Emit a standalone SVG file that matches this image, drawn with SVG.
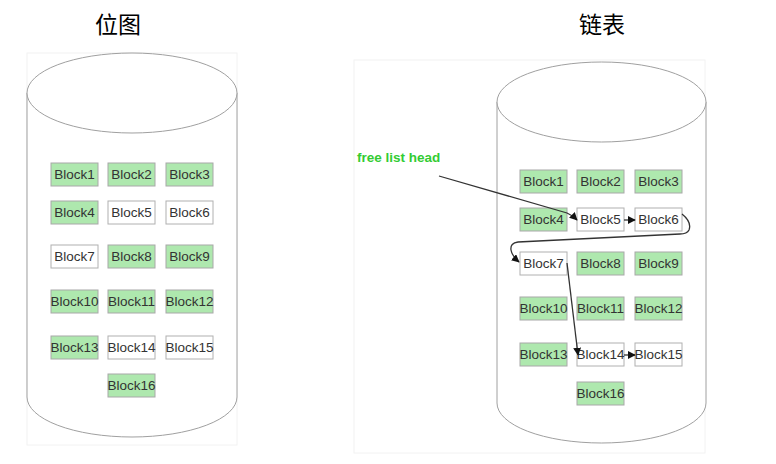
<svg xmlns="http://www.w3.org/2000/svg" width="776" height="464" viewBox="0 0 776 464">
<style>
.frame{fill:none;stroke:#f2f2f2;stroke-width:1}
.cyl{fill:#fff;stroke:#a0a0a0;stroke-width:1}
.used{fill:#aee8ae;stroke:#a8a8a8;stroke-width:1}
.free{fill:#fff;stroke:#b0b0b0;stroke-width:1}
.lbl{font-family:"Liberation Sans",Arial,sans-serif;font-size:13.5px;fill:#333;text-anchor:middle}
.title{font-family:"Noto Sans CJK SC","Noto Sans",sans-serif;font-size:23px;fill:#000;text-anchor:middle}
.conn{fill:none;stroke:#333;stroke-width:1.3}
.head{font-family:"Liberation Sans",Arial,sans-serif;font-size:13.5px;font-weight:bold;fill:#33cc33}
</style>
<defs>
<marker id="arr" viewBox="0 0 10 10" refX="9" refY="5" markerWidth="8" markerHeight="8" orient="auto" markerUnits="userSpaceOnUse">
<path d="M0,0 L10,5 L0,10 z" fill="#111"/>
</marker>
</defs>
<rect width="776" height="464" fill="#fff"/>
<text class="title" x="118" y="33">位图</text>
<text class="title" x="602" y="33">链表</text>
<rect class="frame" x="27" y="53" width="210" height="392"/>
<rect class="frame" x="354" y="60" width="351" height="393"/>
<g id="disk-bitmap">
<path class="cyl" d="M27,93 L27,397 A105,40 0 0 0 237,397 L237,93"/>
<ellipse class="cyl" cx="132" cy="93" rx="105" ry="40"/>
</g>
<g id="disk-list">
<path class="cyl" d="M497,102 L497,403 A104.5,40 0 0 0 706,403 L706,102"/>
<ellipse class="cyl" cx="601.5" cy="102" rx="104.5" ry="40"/>
</g>
<g id="bitmap-blocks">
<g id="b-block1"><rect class="used" x="51" y="163" width="47" height="23"/><text class="lbl" x="74.5" y="179">Block1</text></g>
<g id="b-block2"><rect class="used" x="108" y="163" width="47" height="23"/><text class="lbl" x="131.5" y="179">Block2</text></g>
<g id="b-block3"><rect class="used" x="166" y="163" width="47" height="23"/><text class="lbl" x="189.5" y="179">Block3</text></g>
<g id="b-block4"><rect class="used" x="51" y="201" width="47" height="23"/><text class="lbl" x="74.5" y="217">Block4</text></g>
<g id="b-block5"><rect class="free" x="108" y="201" width="47" height="23"/><text class="lbl" x="131.5" y="217">Block5</text></g>
<g id="b-block6"><rect class="free" x="166" y="201" width="47" height="23"/><text class="lbl" x="189.5" y="217">Block6</text></g>
<g id="b-block7"><rect class="free" x="51" y="245" width="47" height="23"/><text class="lbl" x="74.5" y="261">Block7</text></g>
<g id="b-block8"><rect class="used" x="108" y="245" width="47" height="23"/><text class="lbl" x="131.5" y="261">Block8</text></g>
<g id="b-block9"><rect class="used" x="166" y="245" width="47" height="23"/><text class="lbl" x="189.5" y="261">Block9</text></g>
<g id="b-block10"><rect class="used" x="51" y="290" width="47" height="23"/><text class="lbl" x="74.5" y="306">Block10</text></g>
<g id="b-block11"><rect class="used" x="108" y="290" width="47" height="23"/><text class="lbl" x="131.5" y="306">Block11</text></g>
<g id="b-block12"><rect class="used" x="166" y="290" width="47" height="23"/><text class="lbl" x="189.5" y="306">Block12</text></g>
<g id="b-block13"><rect class="used" x="51" y="336" width="47" height="23"/><text class="lbl" x="74.5" y="352">Block13</text></g>
<g id="b-block14"><rect class="free" x="108" y="336" width="47" height="23"/><text class="lbl" x="131.5" y="352">Block14</text></g>
<g id="b-block15"><rect class="free" x="166" y="336" width="47" height="23"/><text class="lbl" x="189.5" y="352">Block15</text></g>
<g id="b-block16"><rect class="used" x="108" y="374" width="47" height="23"/><text class="lbl" x="131.5" y="390">Block16</text></g>
</g>
<g id="list-blocks">
<g id="l-block1"><rect class="used" x="520" y="170" width="47" height="23"/><text class="lbl" x="543.5" y="186">Block1</text></g>
<g id="l-block2"><rect class="used" x="577" y="170" width="47" height="23"/><text class="lbl" x="600.5" y="186">Block2</text></g>
<g id="l-block3"><rect class="used" x="635" y="170" width="47" height="23"/><text class="lbl" x="658.5" y="186">Block3</text></g>
<g id="l-block4"><rect class="used" x="520" y="208" width="47" height="23"/><text class="lbl" x="543.5" y="224">Block4</text></g>
<g id="l-block5"><rect class="free" x="577" y="208" width="47" height="23"/><text class="lbl" x="600.5" y="224">Block5</text></g>
<g id="l-block6"><rect class="free" x="635" y="208" width="47" height="23"/><text class="lbl" x="658.5" y="224">Block6</text></g>
<g id="l-block7"><rect class="free" x="520" y="252" width="47" height="23"/><text class="lbl" x="543.5" y="268">Block7</text></g>
<g id="l-block8"><rect class="used" x="577" y="252" width="47" height="23"/><text class="lbl" x="600.5" y="268">Block8</text></g>
<g id="l-block9"><rect class="used" x="635" y="252" width="47" height="23"/><text class="lbl" x="658.5" y="268">Block9</text></g>
<g id="l-block10"><rect class="used" x="520" y="297" width="47" height="23"/><text class="lbl" x="543.5" y="313">Block10</text></g>
<g id="l-block11"><rect class="used" x="577" y="297" width="47" height="23"/><text class="lbl" x="600.5" y="313">Block11</text></g>
<g id="l-block12"><rect class="used" x="635" y="297" width="47" height="23"/><text class="lbl" x="658.5" y="313">Block12</text></g>
<g id="l-block13"><rect class="used" x="520" y="343" width="47" height="23"/><text class="lbl" x="543.5" y="359">Block13</text></g>
<g id="l-block14"><rect class="free" x="577" y="343" width="47" height="23"/><text class="lbl" x="600.5" y="359">Block14</text></g>
<g id="l-block15"><rect class="free" x="635" y="343" width="47" height="23"/><text class="lbl" x="658.5" y="359">Block15</text></g>
<g id="l-block16"><rect class="used" x="577" y="382" width="47" height="23"/><text class="lbl" x="600.5" y="398">Block16</text></g>
</g>
<g id="free-list-head"><text class="head" x="357" y="162">free list head</text></g>
<g id="connectors">
<path class="conn" marker-end="url(#arr)" d="M439,176 L567,213 Q572,215 577,220"/>
<path class="conn" marker-end="url(#arr)" d="M624,220 L635,220"/>
<path class="conn" marker-end="url(#arr)" d="M682,214 Q692,222 689,230 Q687,234 680,234 L518,242 Q510,243 511,250 Q512,256 519,262"/>
<path class="conn" marker-end="url(#arr)" d="M567,263 L578,355"/>
<path class="conn" marker-end="url(#arr)" d="M624,355 L635,355"/>
</g>
</svg>
